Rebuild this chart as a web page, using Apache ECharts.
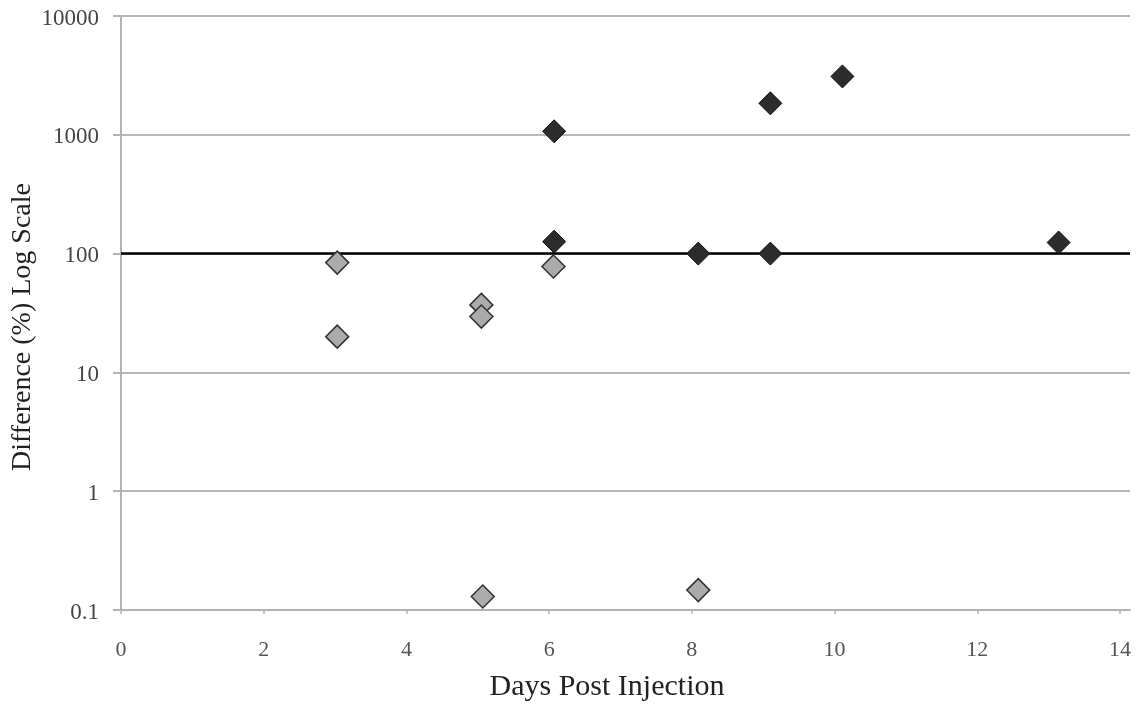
<!DOCTYPE html>
<html>
<head>
<meta charset="utf-8">
<script src="https://cdn.jsdelivr.net/npm/echarts@6/dist/echarts.min.js"></script>
<style>
html,body{margin:0;padding:0;background:#fff;}
#chart{width:1142px;height:713px;}
</style>
</head>
<body>
<div id="chart"></div>
<script>
// Data
const darkX = [6.07, 9.10, 10.11, 6.07, 8.09, 9.10, 13.14];
const darkY = [1070, 1840, 3100, 126, 100, 100, 124];
const grayX = [3.03, 3.03, 5.05, 5.05, 6.06, 5.07, 8.09];
const grayY = [84, 20, 37, 29.5, 78, 0.13, 0.147];
const referenceValue = 100;
const xTitle = 'Days Post Injection';
const yTitle = 'Difference (%) Log Scale';

const font = '"Liberation Serif", "DejaVu Serif", serif';
const chart = echarts.init(document.getElementById('chart'));

const option = {
  animation: false,
  backgroundColor: '#ffffff',
  grid: [
    { left: 121, right: 12, top: 16, bottom: 103, containLabel: false },
    { left: 121, right: 22, top: 16, bottom: 103, containLabel: false }
  ],
  xAxis: [
    {
      gridIndex: 0, type: 'value', min: 0, max: 14.15,
      axisLine: { show: true, lineStyle: { color: '#b3b3b3', width: 2 } },
      axisTick: { show: false }, axisLabel: { show: false }, splitLine: { show: false }
    },
    {
      gridIndex: 1, type: 'value', min: 0, max: 14, interval: 2,
      axisLine: { show: false },
      axisTick: { show: true, length: 4, lineStyle: { color: '#b3b3b3', width: 1.5 } },
      axisLabel: { show: true, margin: 29, color: '#555', fontFamily: font, fontSize: 22 },
      splitLine: { show: false }
    }
  ],
  yAxis: [
    {
      gridIndex: 0, type: 'log', logBase: 10, min: 0.1, max: 10000,
      axisLine: { show: true, lineStyle: { color: '#b3b3b3', width: 2 } },
      axisTick: { show: true, inside: false, length: 8, lineStyle: { color: '#b3b3b3', width: 2 } },
      axisLabel: {
        show: true, margin: 22, color: '#444', fontFamily: font, fontSize: 23,
        verticalAlign: 'top', padding: [-9, 0, 0, 0],
        formatter: v => String(+v.toPrecision(6))
      },
      splitLine: { show: true, lineStyle: { color: '#b8b8b8', width: 2 } },
      minorTick: { show: false }
    },
    {
      gridIndex: 1, type: 'log', logBase: 10, min: 0.1, max: 10000,
      axisLine: { show: false }, axisTick: { show: false },
      axisLabel: { show: false }, splitLine: { show: false }
    }
  ],
  graphic: [
    {
      type: 'text', x: 607, y: 672,
      style: { text: xTitle, fill: '#222', font: '30px ' + font, textAlign: 'center', textVerticalAlign: 'top' }
    },
    {
      type: 'text', x: 9, y: 327, rotation: Math.PI / 2,
      style: { text: yTitle, fill: '#222', font: '28px ' + font, textAlign: 'center', textVerticalAlign: 'top' }
    }
  ],
  series: [
    {
      type: 'scatter', xAxisIndex: 0, yAxisIndex: 0, data: [], z: 3,
      markLine: {
        silent: true, symbol: ['none', 'none'], label: { show: false },
        lineStyle: { color: '#000', width: 2.5, type: 'solid' },
        data: [{ yAxis: referenceValue }]
      }
    },
    {
      name: 'gray', type: 'scatter', xAxisIndex: 1, yAxisIndex: 1, z: 5,
      symbol: 'diamond', symbolSize: 23,
      itemStyle: { color: '#ababab', borderColor: '#333', borderWidth: 1.5, opacity: 1 },
      data: grayX.map((x, i) => [x, grayY[i]])
    },
    {
      name: 'dark', type: 'scatter', xAxisIndex: 1, yAxisIndex: 1, z: 6,
      symbol: 'diamond', symbolSize: 23,
      itemStyle: { color: '#2c2c2c', borderColor: '#111', borderWidth: 1, opacity: 1 },
      data: darkX.map((x, i) => [x, darkY[i]])
    }
  ]
};
chart.setOption(option);
</script>
</body>
</html>
